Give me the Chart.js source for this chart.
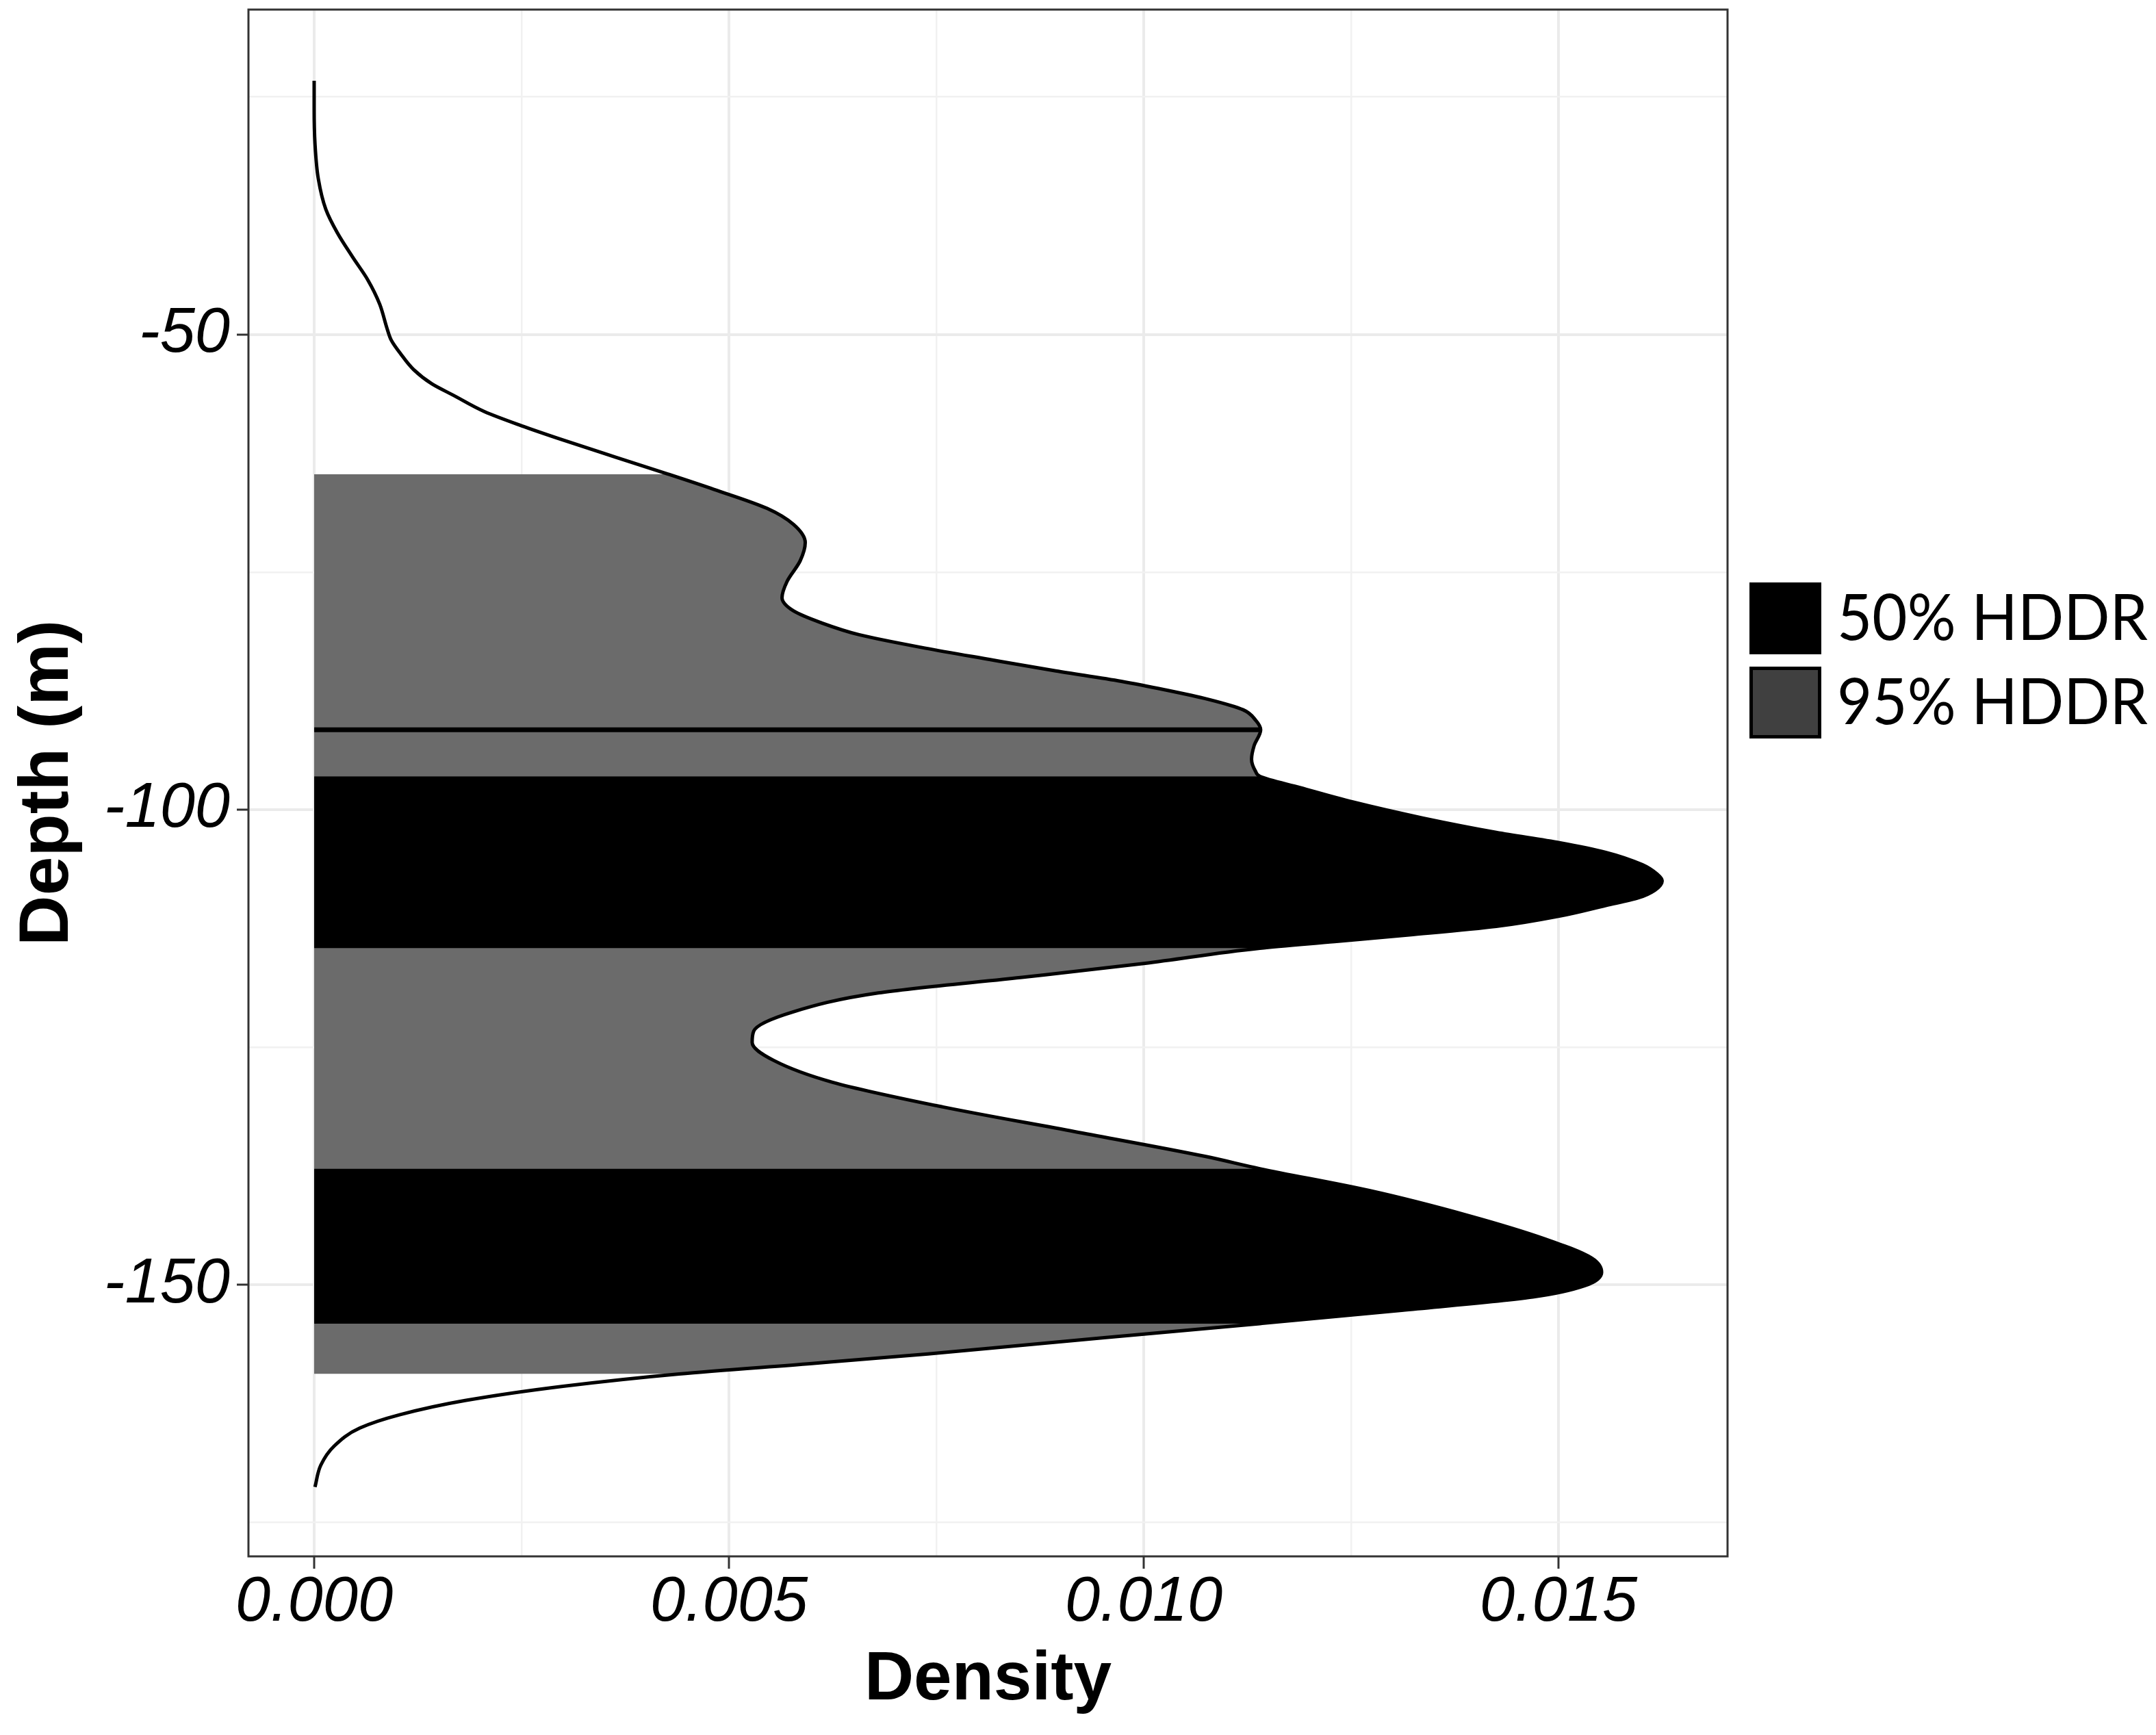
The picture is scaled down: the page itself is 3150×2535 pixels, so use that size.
<!DOCTYPE html>
<html>
<head>
<meta charset="utf-8">
<script src="https://cdn.jsdelivr.net/npm/chart.js@4.4.0/dist/chart.umd.min.js"></script>
<style>
html, body { margin: 0; padding: 0; background: #ffffff; }
#wrap { width: 3150px; height: 2535px; }
</style>
</head>
<body>
<div id="wrap"><canvas id="plot" width="3150" height="2535"></canvas></div>
<script>
// density curve (depth in m, top to bottom)
var depth = [
	-23.3, -26.2, -29.9, -33.6, -36.8, -39.3, -41.8, -44.3, -46.8, -49.4,
	-50.6, -52.0, -53.7, -55.2, -56.4, -58.1, -59.6, -61.1, -62.9, -64.7,
	-66.3, -68.3, -70.0, -71.9, -73.8, -76.0, -77.7, -79.1, -80.3, -81.6,
	-83.0, -84.2, -85.4, -86.5, -87.4, -88.4, -89.5, -90.6, -91.6, -93.3,
	-94.7, -96.0, -96.5, -97.7, -99.2, -100.9, -102.4, -103.5, -104.5, -105.8,
	-106.8, -107.5, -108.5, -109.3, -110.1, -111.2, -112.3, -113.2, -113.9, -114.6,
	-116.2, -117.6, -119.3, -121.3, -123.3, -124.5, -126.4, -128.7, -131.3, -133.9,
	-136.5, -137.8, -140.1, -142.7, -145.2, -147.2, -148.7, -150.1, -151.3, -152.7,
	-154.1, -155.6, -157.3, -158.3, -159.4, -160.7, -162.2, -163.7, -165.1, -167.0,
	-169.0, -171.3
];
var density = [
	0.00000, 0.00000, 0.00001, 0.00005, 0.00014, 0.00028, 0.00046, 0.00065, 0.00079, 0.00088,
	0.00093, 0.00104, 0.00120, 0.00142, 0.00168, 0.00205, 0.00250, 0.00300, 0.00363, 0.00427,
	0.00482, 0.00546, 0.00578, 0.00592, 0.00586, 0.00570, 0.00564, 0.00578, 0.00610, 0.00657,
	0.00736, 0.00814, 0.00894, 0.00973, 0.01026, 0.01078, 0.01120, 0.01135, 0.01141, 0.01133,
	0.01130, 0.01135, 0.01140, 0.01189, 0.01252, 0.01337, 0.01425, 0.01502, 0.01557, 0.01601,
	0.01619, 0.01625, 0.01616, 0.01596, 0.01557, 0.01502, 0.01425, 0.01320, 0.01230, 0.01140,
	0.01000, 0.00859, 0.00680, 0.00577, 0.00530, 0.00528, 0.00554, 0.00625, 0.00758, 0.00917,
	0.01074, 0.01140, 0.01272, 0.01390, 0.01484, 0.01540, 0.01552, 0.01532, 0.01469, 0.01311,
	0.01140, 0.00950, 0.00740, 0.00600, 0.00440, 0.00300, 0.00182, 0.00103, 0.00055, 0.00024,
	0.00008, 0.00001
];

// highest density regions (depth limits)
var hddr95 = [-64.7, -159.4];
var hddr50 = [[-96.5, -114.6], [-137.8, -154.1]];
var hddr50Thin = -91.6;

var xTicks = [0, 0.005, 0.010, 0.015];
var yTicks = [-50, -100, -150];
var legendLabels = ["50% HDDR", "95% HDDR"];
var legendColors = ["#000000", "#404040"];

function curvePoints(top, bottom) {
	var pts = [];
	for (var i = 0; i < depth.length; i++) {
		if (depth[i] <= top + 1e-9 && depth[i] >= bottom - 1e-9) {
			pts.push({x: density[i], y: depth[i]});
		}
	}
	return pts;
}

function isTick(v, list) {
	for (var i = 0; i < list.length; i++) {
		if (Math.abs(v - list[i]) < 1e-7) return true;
	}
	return false;
}

var thinIdx = depth.indexOf(hddr50Thin);

var datasets = [
	{
		data: curvePoints(0, -200),
		borderColor: "#000000",
		borderWidth: 5,
		fill: false,
		cubicInterpolationMode: "monotone"
	},
	{
		data: [{x: 0, y: hddr50Thin}, {x: density[thinIdx], y: hddr50Thin}],
		borderColor: "#000000",
		borderWidth: 7,
		borderCapStyle: "butt",
		tension: 0,
		fill: false
	}
];
hddr50.forEach(function(r) {
	datasets.push({
		data: curvePoints(r[0], r[1]),
		borderWidth: 0,
		borderColor: "rgba(0,0,0,0)",
		backgroundColor: "#000000",
		fill: "origin",
		cubicInterpolationMode: "monotone"
	});
});
datasets.push({
	data: curvePoints(hddr95[0], hddr95[1]),
	borderWidth: 0,
	borderColor: "rgba(0,0,0,0)",
	backgroundColor: "#6b6b6b",
	fill: "origin",
	cubicInterpolationMode: "monotone"
});

var panelBox = {
	id: "panelBox",
	afterDatasetsDraw: function(chart) {
		var a = chart.chartArea, ctx = chart.ctx;
		ctx.save();
		ctx.strokeStyle = "#333333";
		ctx.lineWidth = 3;
		ctx.strokeRect(a.left, a.top, a.right - a.left, a.bottom - a.top);
		ctx.restore();
	}
};

var hddrLegend = {
	id: "hddrLegend",
	afterDraw: function(chart) {
		var ctx = chart.ctx;
		var x = 2556, size = 105, tops = [851, 974], textW = 454;
		ctx.save();
		for (var i = 0; i < legendLabels.length; i++) {
			ctx.fillStyle = legendColors[i];
			ctx.fillRect(x, tops[i], size, size);
			ctx.strokeStyle = "#000000";
			ctx.lineWidth = 5;
			ctx.strokeRect(x + 2.5, tops[i] + 2.5, size - 5, size - 5);
			ctx.fillStyle = "#000000";
			ctx.font = "94px Lato";
			ctx.textBaseline = "alphabetic";
			ctx.textAlign = "left";
			var w = ctx.measureText(legendLabels[i]).width;
			ctx.save();
			ctx.translate(2684, tops[i] + 84);
			ctx.scale(textW / w, 1);
			ctx.fillText(legendLabels[i], 0, 0);
			ctx.restore();
		}
		ctx.restore();
	}
};

function gridColor(c) { return isTick(c.tick.value, c.scale.axis === "x" ? xTicks : yTicks) ? "#ebebeb" : "#f1f1f1"; }
function gridWidth(c) { return isTick(c.tick.value, c.scale.axis === "x" ? xTicks : yTicks) ? 4 : 2.5; }
function tickColor(c) { return isTick(c.tick.value, c.scale.axis === "x" ? xTicks : yTicks) ? "#333333" : "rgba(0,0,0,0)"; }

var ctx = document.getElementById("plot").getContext("2d");
var chart = new Chart(ctx, {
	type: "line",
	data: {datasets: datasets},
	plugins: [panelBox, hddrLegend],
	options: {
		responsive: false,
		animation: false,
		devicePixelRatio: 1,
		indexAxis: "y",
		layout: {padding: {top: 14, right: 626, bottom: 0, left: 0}},
		elements: {point: {radius: 0}},
		plugins: {legend: {display: false}, tooltip: {enabled: false}},
		scales: {
			x: {
				type: "linear",
				min: -0.000792,
				max: 0.017038,
				afterFit: function(s) { s.height = 261; s.paddingLeft = 0; s.paddingRight = 0; },
				border: {display: false},
				grid: {color: gridColor, lineWidth: gridWidth, tickColor: tickColor, tickWidth: 3, tickLength: 18},
				ticks: {
					stepSize: 0.0025,
					includeBounds: false,
					autoSkip: false,
					maxRotation: 0,
					padding: 4,
					color: "#000000",
					font: {family: "Liberation Sans", size: 92, style: "italic", lineHeight: 1},
					callback: function(v) { return isTick(v, xTicks) ? v.toFixed(3) : ""; }
				},
				title: {
					display: true,
					text: "Density",
					color: "#000000",
					padding: {top: 0, bottom: 30},
					font: {family: "Liberation Sans", size: 100, weight: "bold", lineHeight: 1}
				}
			},
			y: {
				type: "linear",
				min: -178.6,
				max: -15.8,
				afterFit: function(s) { s.width = 363; s.paddingTop = 0; s.paddingBottom = 0; },
				border: {display: false},
				grid: {color: gridColor, lineWidth: gridWidth, tickColor: tickColor, tickWidth: 3, tickLength: 17},
				ticks: {
					stepSize: 25,
					includeBounds: false,
					autoSkip: false,
					padding: 10,
					color: "#000000",
					font: {family: "Liberation Sans", size: 92, style: "italic", lineHeight: 1},
					callback: function(v) { return isTick(v, yTicks) ? String(v) : ""; }
				},
				title: {
					display: true,
					text: "Depth (m)",
					color: "#000000",
					padding: {top: 20, bottom: 0},
					font: {family: "Liberation Sans", size: 102, weight: "bold", lineHeight: 1}
				}
			}
		}
	}
});
</script>
</body>
</html>
